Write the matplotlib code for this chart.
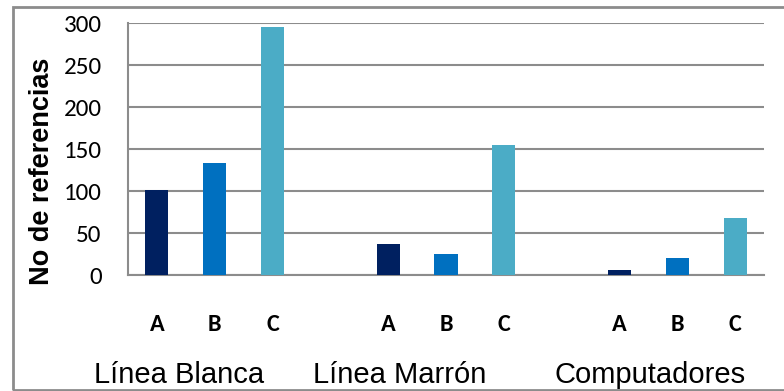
import matplotlib
matplotlib.use("Agg")
import matplotlib.pyplot as plt
from matplotlib.patches import Rectangle

# Data
groups = ["Línea Blanca", "Línea Marrón", "Computadores"]
series = ["A", "B", "C"]
linea_blanca = [101, 133, 295]
linea_marron = [37, 25, 155]
computadores = [6, 20, 68]
yticks = [0, 50, 100, 150, 200, 250, 300]
ylabel = "No de referencias"

colors = ["#002060", "#0070C0", "#4BACC6"]
values = [linea_blanca, linea_marron, computadores]

W, H = 784, 391
fig = plt.figure(figsize=(W / 100, H / 100), dpi=100)

def px(x, y):
    return x / W, 1 - y / H

# Plot area
left, top, right, bottom = 128, 23, 764, 275
ax = fig.add_axes([left / W, 1 - bottom / H, (right - left) / W, (bottom - top) / H])

positions = []
labels = []
for g, vals in enumerate(values):
    for s, v in enumerate(vals):
        x = g * 4 + s
        ax.bar(x, v, width=0.40, color=colors[s], zorder=3)
        positions.append(x)
        labels.append(series[s])

ax.set_xlim(-0.5, 10.5)
ax.set_ylim(0, 300)
ax.set_yticks(yticks)
ax.set_yticklabels([str(t) for t in yticks], fontsize=18,
                   family=["Carlito", "Lato", "DejaVu Sans"])
ax.tick_params(axis="y", length=0, pad=19)
ax.set_xticks(positions)
ax.set_xticklabels(labels, fontsize=17.5, fontweight="bold",
                   family=["Carlito", "Lato", "DejaVu Sans"])
ax.tick_params(axis="x", length=0, pad=28)

ax.grid(axis="y", color="#8C8C8C", linewidth=1.5, zorder=0)
for side in ["top", "right"]:
    ax.spines[side].set_visible(False)
for side in ["left", "bottom"]:
    ax.spines[side].set_color("#8C8C8C")
    ax.spines[side].set_linewidth(1.5)

# Y label
fx, fy = px(42, 171)
fig.text(fx, fy, ylabel, rotation=90, ha="center", va="center",
         fontsize=19.5, fontweight="bold", family="Liberation Sans")

# Group labels
for name, cx in zip(groups, [179, 400, 650]):
    fx, fy = px(cx, 383)
    fig.text(fx, fy, name, ha="center", va="baseline", fontsize=21,
             family="Liberation Sans")

# Outer frame
frame = Rectangle((12.5 / W, 1 - 389.5 / H), 1.0, (389.5 - 7) / H,
                  transform=fig.transFigure, fill=False,
                  edgecolor="#8C8C8C", linewidth=2, clip_on=False)
fig.patches.append(frame)

fig.savefig("out.png", dpi=100)
